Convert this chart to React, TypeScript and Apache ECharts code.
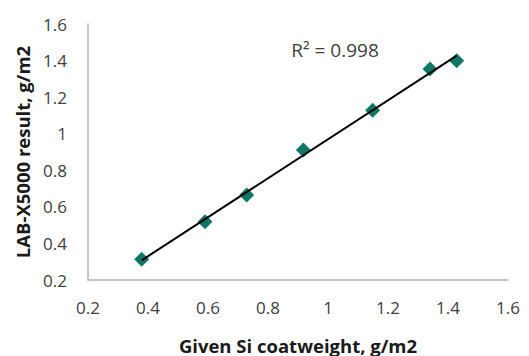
import React, { useEffect, useRef } from "react";
import * as echarts from "echarts";

const givenSi = [0.379, 0.59, 0.729, 0.918, 1.149, 1.34, 1.429];
const labResult = [0.313, 0.519, 0.665, 0.911, 1.129, 1.354, 1.399];
const r2Label = "R² = 0.998";
const xTitle = "Given Si coatweight, g/m2";
const yTitle = "LAB-X5000 result, g/m2";

function trend(xs: number[], ys: number[]) {
  const n = xs.length;
  const mx = xs.reduce((a, b) => a + b, 0) / n;
  const my = ys.reduce((a, b) => a + b, 0) / n;
  let sxy = 0, sxx = 0;
  for (let i = 0; i < n; i++) {
    sxy += (xs[i] - mx) * (ys[i] - my);
    sxx += (xs[i] - mx) * (xs[i] - mx);
  }
  const k = sxy / sxx;
  const b = my - k * mx;
  const x0 = Math.min(...xs), x1 = Math.max(...xs);
  return [[x0, k * x0 + b], [x1, k * x1 + b]];
}

export default function App() {
  const ref = useRef<HTMLDivElement>(null);
  useEffect(() => {
    if (!ref.current) return;
    const chart = echarts.init(ref.current, undefined, { renderer: "svg" });
    const font = "'Open Sans', sans-serif";
    const axisCommon = {
      type: "value" as const,
      min: 0.2,
      max: 1.6,
      interval: 0.2,
      splitLine: { show: false },
      axisTick: { show: false },
      axisLine: { show: true, lineStyle: { color: "#b3b3b3", width: 1.5 } },
      nameLocation: "middle" as const,
      nameTextStyle: { fontFamily: font, fontSize: 18.5, lineHeight: 20, fontWeight: "bold" as const, color: "#1a1a1a" },
    };
    chart.setOption({
      animation: false,
      grid: { left: 88, right: 21, top: 24, bottom: 76, outerBoundsMode: "none", containLabel: false },
      xAxis: {
        ...axisCommon,
        name: xTitle,
        nameGap: 55,
        axisLabel: {
          fontFamily: font, fontSize: 17, color: "#404040", margin: 19,
          formatter: (v: number) => String(Math.round(v * 10) / 10),
        },
      },
      yAxis: {
        ...axisCommon,
        name: yTitle,
        nameGap: 56,
        axisLabel: {
          fontFamily: font, fontSize: 17, color: "#404040", margin: 21,
          formatter: (v: number) => String(Math.round(v * 10) / 10),
        },
      },
      series: [
        {
          type: "scatter",
          data: givenSi.map((x, i) => [x, labResult[i]]),
          symbol: "diamond",
          symbolSize: 15,
          itemStyle: { color: "#0f7763", opacity: 1 },
          z: 2,
        },
        {
          type: "line",
          data: trend(givenSi, labResult),
          showSymbol: false,
          symbol: "none",
          lineStyle: { color: "#000000", width: 2 },
          z: 3,
        },
      ],
      graphic: [
        {
          type: "text",
          x: 335,
          y: 50,
          style: {
            text: r2Label,
            fontFamily: font,
            fontSize: 19,
            fill: "#404040",
            textAlign: "center",
            textVerticalAlign: "middle",
          },
        },
      ],
    });
    return () => chart.dispose();
  }, []);
  return <div ref={ref} style={{ width: 529, height: 356, position: "absolute", left: 0, top: 0 }} />;
}
